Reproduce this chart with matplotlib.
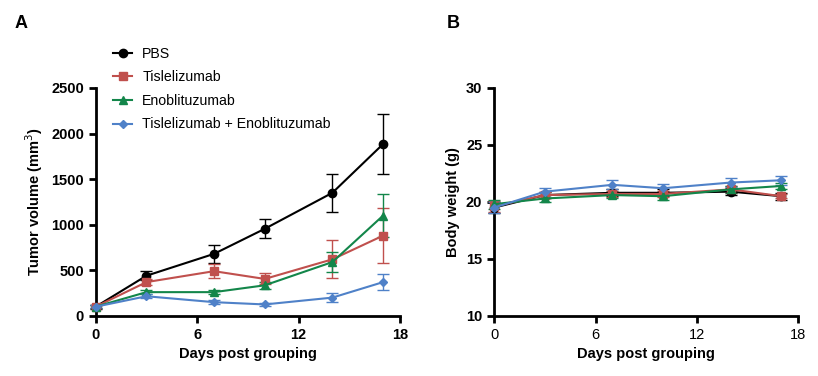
import matplotlib
matplotlib.use("Agg")
import matplotlib.pyplot as plt
from matplotlib.lines import Line2D

plt.rcParams['font.family'] = ['Liberation Sans', 'DejaVu Sans']

days = [0, 3, 7, 10, 14, 17]
groups = ["PBS", "Tislelizumab", "Enoblituzumab", "Tislelizumab + Enoblituzumab"]
colors = ["#000000", "#C0504D", "#13864A", "#4F81C8"]
markers = ["o", "s", "^", "D"]
msizes = [6, 6, 6, 4]

# tumor volume (mm3), mean and error
vol_pbs = [100, 440, 680, 955, 1350, 1885]
vol_pbs_err = [20, 50, 95, 105, 210, 330]
vol_tis = [100, 370, 490, 405, 620, 880]
vol_tis_err = [15, 30, 80, 60, 210, 300]
vol_eno = [100, 260, 260, 335, 590, 1100]
vol_eno_err = [15, 25, 20, 40, 110, 235]
vol_combo = [100, 215, 150, 125, 200, 370]
vol_combo_err = [15, 20, 20, 20, 50, 85]

# body weight (g)
bw_pbs = [19.5, 20.6, 20.8, 20.8, 20.9, 20.5]
bw_pbs_err = [0.5, 0.3, 0.3, 0.3, 0.3, 0.3]
bw_tis = [19.6, 20.6, 20.7, 20.7, 21.1, 20.5]
bw_tis_err = [0.5, 0.3, 0.3, 0.3, 0.3, 0.2]
bw_eno = [19.8, 20.3, 20.6, 20.5, 21.1, 21.4]
bw_eno_err = [0.4, 0.3, 0.3, 0.3, 0.3, 0.3]
bw_combo = [19.5, 20.9, 21.5, 21.2, 21.7, 21.9]
bw_combo_err = [0.5, 0.3, 0.4, 0.4, 0.4, 0.4]

vols = [(vol_pbs, vol_pbs_err), (vol_tis, vol_tis_err), (vol_eno, vol_eno_err), (vol_combo, vol_combo_err)]
bws = [(bw_pbs, bw_pbs_err), (bw_tis, bw_tis_err), (bw_eno, bw_eno_err), (bw_combo, bw_combo_err)]

fig = plt.figure(figsize=(8.18, 3.76), dpi=100)
axA = fig.add_axes([0.117, 0.160, 0.372, 0.606])
axB = fig.add_axes([0.604, 0.160, 0.372, 0.606])


def style(ax, xbold):
    for s in ["top", "right"]:
        ax.spines[s].set_visible(False)
    for s in ["left", "bottom"]:
        ax.spines[s].set_linewidth(2)
    ax.tick_params(width=2, length=5, labelsize=10.5, direction="out")
    ax.set_xlim(0, 18)
    ax.set_xticks([0, 6, 12, 18])
    for t in ax.get_yticklabels():
        t.set_fontweight("bold")
    if xbold:
        for t in ax.get_xticklabels():
            t.set_fontweight("bold")
    ax.set_xlabel("Days post grouping", fontsize=10.5, fontweight="bold")


for (m, e), g, c, mk, ms in zip(vols, groups, colors, markers, msizes):
    axA.errorbar(days, m, yerr=e, color=c, marker=mk, ms=ms, lw=1.5,
                 capsize=4, elinewidth=1, capthick=1, label=g, clip_on=False, zorder=3)
axA.set_ylim(0, 2500)
axA.set_yticks([0, 500, 1000, 1500, 2000, 2500])
axA.set_ylabel("Tumor volume (mm$^3$)", fontsize=10.5, fontweight="bold")
style(axA, True)

handles = [Line2D([], [], color=c, marker=mk, ms=ms, lw=1.5)
           for c, mk, ms in zip(colors, markers, msizes)]
fig.legend(handles, groups, loc="upper left", bbox_to_anchor=(0.129, 0.895),
           frameon=False, fontsize=10.2, borderpad=0, handlelength=1.4,
           labelspacing=0.68, handletextpad=0.7)

for (m, e), g, c, mk, ms in zip(bws, groups, colors, markers, msizes):
    axB.errorbar(days, m, yerr=e, color=c, marker=mk, ms=ms, lw=1.5,
                 capsize=4, elinewidth=1, capthick=1, label=g, clip_on=False, zorder=3)
axB.set_ylim(10, 30)
axB.set_yticks([10, 15, 20, 25, 30])
axB.set_ylabel("Body weight (g)", fontsize=10.5, fontweight="bold")
style(axB, False)

fig.text(0.018, 0.925, "A", fontsize=13, fontweight="bold")
fig.text(0.546, 0.925, "B", fontsize=13, fontweight="bold")

fig.savefig("out.png", dpi=100)
